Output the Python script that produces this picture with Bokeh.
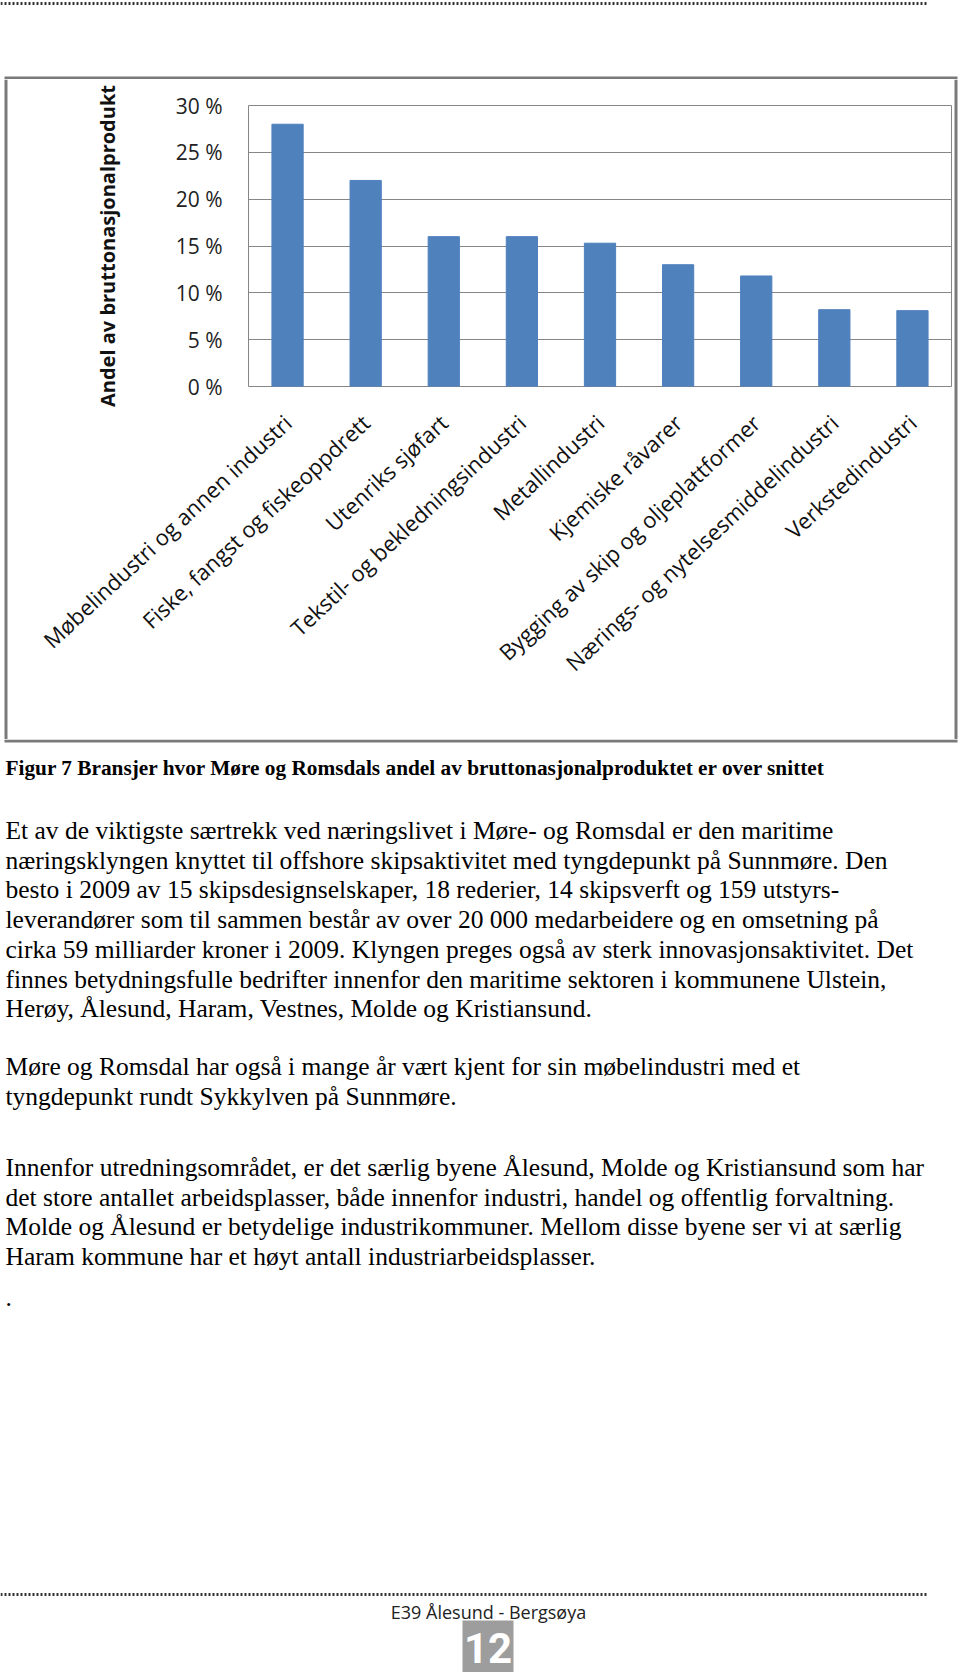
import math
from bokeh.plotting import figure
from bokeh.models import FactorRange, Range1d, FixedTicker, PrintfTickFormatter
from bokeh.layouts import column, row
from bokeh.core.properties import value
from bokeh.embed import file_html
from bokeh.resources import INLINE

# ---- chart data ----
categories = [
    "Møbelindustri og annen industri",
    "Fiske, fangst og fiskeoppdrett",
    "Utenriks sjøfart",
    "Tekstil- og bekledningsindustri",
    "Metallindustri",
    "Kjemiske råvarer",
    "Bygging av skip og oljeplattformer",
    "Nærings- og nytelsesmiddelindustri",
    "Verkstedindustri",
]
shares = [28.0, 22.0, 16.0, 16.0, 15.3, 13.0, 11.8, 8.2, 8.1]
y_ticks = [0, 5, 10, 15, 20, 25, 30]
y_label = "Andel av bruttonasjonalprodukt"

# ---- page text ----
caption = "Figur 7 Bransjer hvor Møre og Romsdals andel av bruttonasjonalproduktet er over snittet"
para1 = [
    "Et av de viktigste særtrekk ved næringslivet i Møre- og Romsdal er den maritime",
    "næringsklyngen knyttet til offshore skipsaktivitet med tyngdepunkt på Sunnmøre. Den",
    "besto i 2009 av 15 skipsdesignselskaper, 18 rederier, 14 skipsverft og 159 utstyrs-",
    "leverandører som til sammen består av over 20 000 medarbeidere og en omsetning på",
    "cirka 59 milliarder kroner i 2009. Klyngen preges også av sterk innovasjonsaktivitet. Det",
    "finnes betydningsfulle bedrifter innenfor den maritime sektoren i kommunene Ulstein,",
    "Herøy, Ålesund, Haram, Vestnes, Molde og Kristiansund.",
]
para2 = [
    "Møre og Romsdal har også i mange år vært kjent for sin møbelindustri med et",
    "tyngdepunkt rundt Sykkylven på Sunnmøre.",
]
para3 = [
    "Innenfor utredningsområdet, er det særlig byene Ålesund, Molde og Kristiansund som har",
    "det store antallet arbeidsplasser, både innenfor industri, handel og offentlig forvaltning.",
    "Molde og Ålesund er betydelige industrikommuner. Mellom disse byene ser vi at særlig",
    "Haram kommune har et høyt antall industriarbeidsplasser.",
]
trailing_dot = "."
footer_text = "E39 Ålesund - Bergsøya"
page_number = "12"

BORDER = "#7a7a7a"


def blank_fig(width, height, x0, x1, y0, y1):
    f = figure(width=width, height=height, x_range=Range1d(x0, x1), y_range=Range1d(y1, y0),
               toolbar_location=None, output_backend="svg", x_axis_type=None, y_axis_type=None,
               min_border=0)
    f.min_border_left = f.min_border_right = f.min_border_top = f.min_border_bottom = 0
    f.grid.visible = False
    f.outline_line_color = None
    try:
        f.frame_align = False
    except Exception:
        pass
    return f


# ---- header: page y 0..79 (dotted rule + top of chart border) ----
header = blank_fig(960, 79, 0, 960, 0, 79)
header.line([0, 927], [3, 3], line_dash="2 2", line_width=3, color="#333333")
header.line([4, 957], [77.5, 77.5], line_width=3, color=BORDER)

# ---- side strips of the chart border: page y 79..739 ----
SH = 660
left_strip = blank_fig(8, SH, 0, 8, 79, 739)
left_strip.line([5.5, 5.5], [79, 739], line_width=3, color=BORDER)
right_strip = blank_fig(8, SH, 952, 960, 79, 739)
right_strip.line([955.5, 955.5], [79, 739], line_width=3, color=BORDER)

# ---- bar chart: page x 8..952, y 79..739 ----
p = figure(width=944, height=SH, x_range=FactorRange(*categories), y_range=Range1d(0, 30),
           toolbar_location=None, output_backend="svg",
           min_border_left=240, min_border_right=1, min_border_top=26, min_border_bottom=353)
try:
    p.frame_align = False
except Exception:
    pass
p.vbar(x=categories, top=shares, width=0.4, color="#4F81BD")
p.outline_line_color = "#868686"
p.outline_line_width = 1
p.xgrid.grid_line_color = None
p.ygrid.grid_line_color = "#868686"
p.ygrid.grid_line_width = 1

p.yaxis.ticker = FixedTicker(ticks=y_ticks)
p.yaxis.formatter = PrintfTickFormatter(format="%d %%")
p.yaxis.axis_line_color = None
p.yaxis.major_tick_line_color = None
p.yaxis.minor_tick_line_color = None
p.yaxis.major_label_standoff = 20
p.yaxis.major_label_text_font = "Open Sans"
p.yaxis.major_label_text_font_size = "21px"
p.yaxis.major_label_text_color = "#222222"
p.yaxis.axis_label = y_label
p.yaxis.axis_label_text_font = "Open Sans"
p.yaxis.axis_label_text_font_style = "bold"
p.yaxis.axis_label_text_font_size = "20px"
p.yaxis.axis_label_text_color = "#111111"
p.yaxis.axis_label_standoff = 52

p.xaxis.axis_line_color = None
p.xaxis.major_tick_line_color = None
p.xaxis.minor_tick_line_color = None
p.xaxis.major_label_orientation = math.radians(43)
p.xaxis.major_label_text_font = "Open Sans"
p.xaxis.major_label_text_font_size = "22px"
p.xaxis.major_label_text_color = "#111111"
p.xaxis.major_label_standoff = 26

# ---- body: page y 739..1672 ----
TOP, BOT = 739, 1672
t = blank_fig(960, BOT - TOP, 0, 960, TOP, BOT)
t.line([4, 957], [740.5, 740.5], line_width=3, color=BORDER)

serif = value("Liberation Serif")
t.text(x=[5], y=[767], text=[caption], text_font=serif, text_font_style="bold",
       text_font_size="21.3px", text_baseline="alphabetic", text_color="black")

step = 29.7
y1 = [830 + i * step for i in range(len(para1))]
y2 = [1066 + i * step for i in range(len(para2))]
y3 = [1167 + i * step for i in range(len(para3))]
lines = para1 + para2 + para3 + [trailing_dot]
ys = y1 + y2 + y3 + [1297]
t.text(x=[5] * len(lines), y=ys, text=lines, text_font=serif, text_font_size="25.5px",
       text_baseline="alphabetic", text_color="black")

# footer
t.line([0, 927], [1594, 1594], line_dash="2 2", line_width=3, color="#333333")
t.text(x=[488], y=[1611], text=[footer_text], text_font=value("Open Sans"), text_font_size="18px",
       text_align="center", text_baseline="alphabetic", text_color="#222222")
t.quad(left=[462], right=[513], top=[1620], bottom=[1672], fill_color="#9d9d9d", line_color=None)
t.text(x=[487.5], y=[1647], text=[page_number], text_font=value("Roboto"),
       text_font_style="bold", text_font_size="42px", text_align="center",
       text_baseline="middle", text_color="white")

layout = column(header, row(left_strip, p, right_strip, spacing=0), t, spacing=0)
open("out.html", "w").write(file_html(layout, INLINE))
